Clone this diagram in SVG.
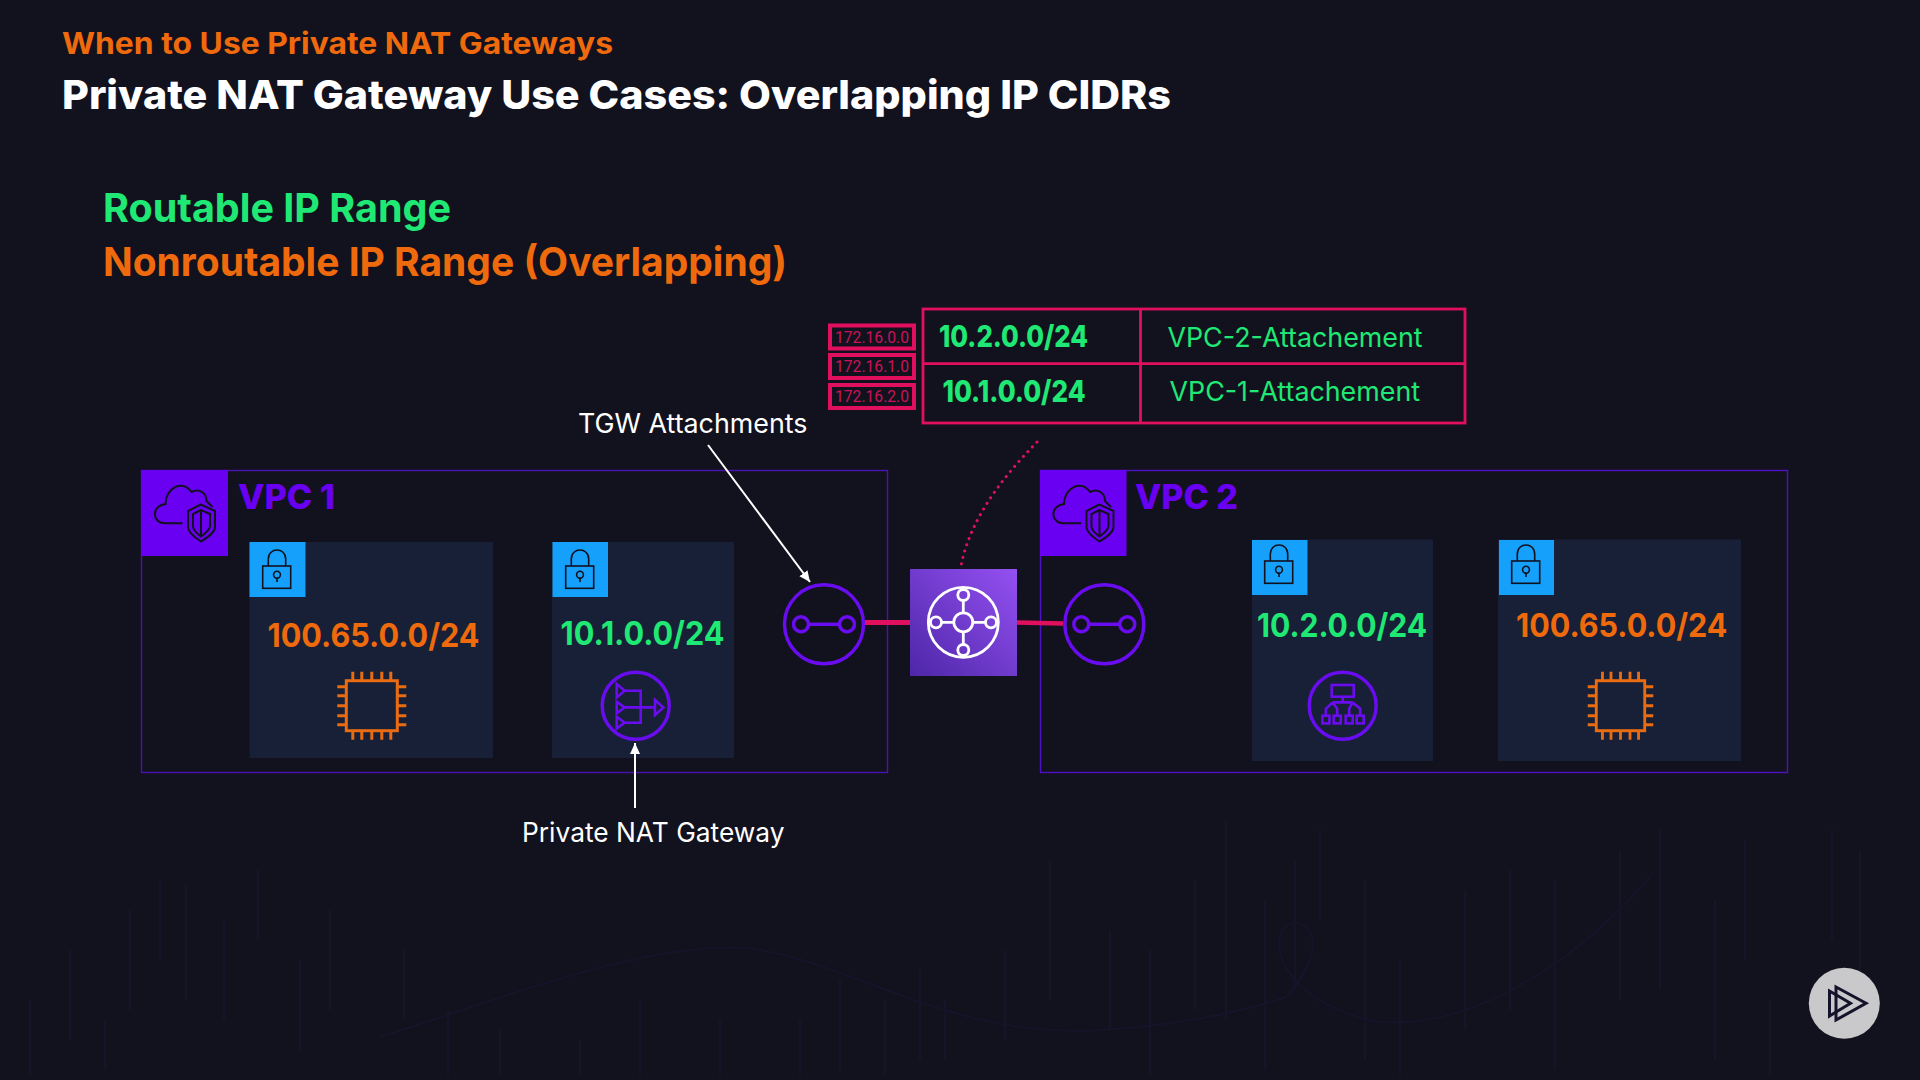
<svg xmlns="http://www.w3.org/2000/svg" xmlns:xlink="http://www.w3.org/1999/xlink" width="1920" height="1080" viewBox="0 0 1920 1080">
<style>
text{font-family:"Inter","Liberation Sans",sans-serif}
.b{font-weight:800}
.sb{font-weight:700}
.green{fill:#1fe974}
.orange{fill:#ef6a0d}
.white{fill:#fff}
.purple{fill:#6a00f2}
.vpc{fill:none;stroke:#4a12b0;stroke-width:1.4}
.subnet{fill:#172036}
.lockbox{fill:#14a0fb}
.ln{fill:none;stroke:#12111e;stroke-width:1.6}
.pu{fill:none;stroke:#6a0cf0;stroke-width:3.500}
.pu2{fill:none;stroke:#6a0cf0;stroke-width:2.600}
.or{fill:none;stroke:#ea6c12;stroke-width:3}
.pink{fill:none;stroke:#e0105f}
.lbl{font-size:27px;fill:#fff}
.ipt{font-family:"Roboto","Liberation Sans",sans-serif;font-size:16px;fill:#c9145a}
.cidr{font-size:33px;font-weight:700}
.tcidr{font-size:30px;font-weight:800}
.att{font-size:27px;fill:#1fe974}
</style>
<defs>
<linearGradient id="tgwg" x1="0" y1="1" x2="1" y2="0">
<stop offset="0" stop-color="#4d27a8"/><stop offset="1" stop-color="#9550f2"/>
</linearGradient>
<marker id="wa" markerUnits="userSpaceOnUse" markerWidth="14" markerHeight="14" refX="11" refY="5" orient="auto">
<path d="M0 0L11 5L0 10z" fill="#fff"/>
</marker>
<g id="cloudshield">
<rect width="86.500" height="86" fill="#6a00f2"/>
<g class="ln" style="stroke-width:2">
<path d="M41 53.300H23C11 53.300 9 36 24 34C24 18 41 9 50 22C58 18 65 23 65 31L71 37"/>
<path d="M59.500 34.500L46.500 41V57C46.500 63 54 68 59.500 71.500C65 68 73.500 63 73.500 57V41z"/>
<path d="M59.500 40L51.500 44V56C51.500 60 56 64 59.500 66.500C63 64 68.500 60 68.500 56V44z"/>
<path d="M59.500 40V66.500"/>
</g>
</g>
<g id="lock" class="ln">
<rect x="12.700" y="24" width="28" height="22.300"/>
<path d="M18.300 24V17C18.300 5 35.700 5 35.700 17V24"/>
<circle cx="27" cy="32.700" r="3.400"/>
<path d="M27 36V40"/>
</g>
<g id="chip" class="or">
<rect x="-25.500" y="-25" width="51" height="50"/>
<path d="M-19 -25V-34M-10 -25V-34M0 -25V-34M10 -25V-34M19 -25V-34M-19 25V34M-10 25V34M0 25V34M10 25V34M19 25V34M-25.500 -19H-34.500M-25.500 -10H-34.500M-25.500 0H-34.500M-25.500 10H-34.500M-25.500 19H-34.500M25.500 -19H34.500M25.500 -10H34.500M25.500 0H34.500M25.500 10H34.500M25.500 19H34.500"/>
</g>
<g id="attach">
<circle class="pu" r="39.500"/>
<circle class="pu" cx="-23" r="7.500"/>
<circle class="pu" cx="23" r="7.500"/>
<path class="pu" d="M-16 0H16"/>
</g>
</defs>

<rect id="background" width="1920" height="1080" fill="#12111e"/>
<g id="texture" fill="none" stroke="#191733" stroke-width="2" opacity="0.55">
<path d="M30 1000V1075M70 950V1040M105 1020V1070M130 910V1010M160 880V960M186 885V1000M224 920V1020M258 870V940M300 960V1050M330 910V1010M404 950V1020M448 1010V1075M500 1030V1075M580 1040V1075M640 1000V1075M720 1020V1075M800 1020V1075M840 980V1070M885 1000V1075M920 970V1060M945 1000V1060M1005 950V1040M1050 860V1000M1110 930V1030M1150 950V1075M1195 880V1010M1226 820V1020M1265 900V1070M1295 860V990M1320 830V920M1365 880V1060M1400 960V1075M1465 890V1030M1510 870V1010M1555 880V1070M1620 850V1000M1660 830V990M1715 900V1060M1745 840V960M1770 1000V1075M1832 830V940M1860 850V1010"/>
<path d="M380 1037C470 1010 640 940 747 948C850 960 950 1040 1102 1030C1180 1025 1250 1010 1286 997C1320 960 1320 925 1295 923C1265 925 1270 1000 1378 1022C1480 1030 1590 950 1653 873"/>
</g>

<g id="title">
<text class="sb orange" x="62" y="54" font-size="30" textLength="551" lengthAdjust="spacingAndGlyphs">When to Use Private NAT Gateways</text>
<text class="b white" x="62" y="109" font-size="40" textLength="1109" lengthAdjust="spacingAndGlyphs">Private NAT Gateway Use Cases: Overlapping IP CIDRs</text>
</g>
<g id="legend">
<text class="sb green" x="103" y="222" font-size="40" textLength="348" lengthAdjust="spacingAndGlyphs">Routable IP Range</text>
<text class="sb orange" x="103" y="276" font-size="40" textLength="684" lengthAdjust="spacingAndGlyphs">Nonroutable IP Range (Overlapping)</text>
</g>

<g id="vpc1">
<rect class="vpc" x="141.500" y="470.500" width="746" height="302"/>
<use href="#cloudshield" x="141.500" y="470"/>
<text class="b purple" x="238" y="509" font-size="34" textLength="97" lengthAdjust="spacingAndGlyphs">VPC 1</text>
</g>
<g id="subnet1">
<rect class="subnet" x="249.500" y="542" width="243.500" height="216"/>
<rect class="lockbox" x="249.500" y="542" width="56" height="55"/>
<use href="#lock" x="250" y="542"/>
<text class="cidr orange" x="267.500" y="647" textLength="212" lengthAdjust="spacingAndGlyphs">100.65.0.0/24</text>
<use href="#chip" x="371.800" y="705.700"/>
</g>
<g id="subnet2">
<rect class="subnet" x="552" y="542" width="182" height="216"/>
<rect class="lockbox" x="552.500" y="542" width="55.500" height="55"/>
<use href="#lock" x="553" y="542"/>
<text class="cidr green" x="560.500" y="644.500" textLength="164" lengthAdjust="spacingAndGlyphs">10.1.0.0/24</text>
</g>
<g id="nat-gateway" transform="translate(635.700 705.700)">
<circle class="pu" r="33.500"/>
<g class="pu2">
<path d="M-19 -21.700L-11 -15L-19 -8.300zM-19 -4L-11 1.700L-19 7.700zM-19 11L-11 17L-19 22.700zM19.300 -5.700L27.700 1.700L19.300 9.300z"/>
<path d="M-11 -15H5V17H-11M-11 1.700H19.300"/>
</g>
</g>
<g id="tgw-attachment-1"><use href="#attach" x="824" y="624.300"/></g>
<g id="tgw">
<rect x="910" y="569" width="107" height="107" fill="url(#tgwg)"/>
<g fill="none" stroke="#fff" stroke-width="2.800">
<circle cx="963.300" cy="622.300" r="35"/>
<circle cx="963.300" cy="622.300" r="9.500"/>
<circle cx="936" cy="622.300" r="5.500"/>
<circle cx="991" cy="622.300" r="5.500"/>
<circle cx="963.300" cy="595" r="5.500"/>
<circle cx="963.300" cy="650" r="5.500"/>
<path d="M941.500 622.300H953.800M972.800 622.300H985.500M963.300 600.500V612.800M963.300 631.800V644.500"/>
</g>
</g>

<g id="vpc2">
<rect class="vpc" x="1040.500" y="470.500" width="747" height="302" style="stroke:#4f10c4"/>
<use href="#cloudshield" x="1040" y="470"/>
<text class="b purple" x="1135" y="509" font-size="34" textLength="103" lengthAdjust="spacingAndGlyphs">VPC 2</text>
</g>
<g id="tgw-attachment-2"><use href="#attach" x="1104.300" y="624.300"/></g>
<g id="subnet3">
<rect class="subnet" x="1252" y="539.500" width="181" height="221.500"/>
<rect class="lockbox" x="1252" y="540" width="55.500" height="55"/>
<use href="#lock" x="1252" y="537"/>
<text class="cidr green" x="1257" y="636.500" textLength="170" lengthAdjust="spacingAndGlyphs">10.2.0.0/24</text>
</g>
<g id="load-balancer" transform="translate(1342.700 705.700)">
<circle class="pu" r="33.500"/>
<g class="pu2">
<rect x="-11" y="-20.700" width="22" height="11.700"/>
<path d="M0 -9V-3.300M-10 -3.300H10M-10 -3.300L-16.800 3V10M-10 -3.300L-5.500 3V10M10 -3.300L6.500 3V10M10 -3.300L17.500 3V10"/>
<rect x="-20.300" y="10" width="7" height="7.700"/>
<rect x="-9" y="10" width="7" height="7.700"/>
<rect x="3" y="10" width="7" height="7.700"/>
<rect x="14" y="10" width="7" height="7.700"/>
</g>
</g>
<g id="subnet4">
<rect class="subnet" x="1498" y="539.500" width="243" height="221.500"/>
<rect class="lockbox" x="1499" y="540" width="55" height="55"/>
<use href="#lock" x="1499" y="537"/>
<text class="cidr orange" x="1516" y="636.500" textLength="211.500" lengthAdjust="spacingAndGlyphs">100.65.0.0/24</text>
<use href="#chip" transform="translate(1620.500 705.700) scale(0.95 1)"/>
</g>

<g id="route-table">
<g class="pink" stroke-width="2.800">
<rect x="923" y="309" width="542" height="114"/>
<path d="M923 363.700H1465M1140.500 309V423"/>
</g>
<text class="tcidr green" x="939" y="347" textLength="149" lengthAdjust="spacingAndGlyphs">10.2.0.0/24</text>
<text class="att" x="1167.500" y="347" textLength="255" lengthAdjust="spacingAndGlyphs">VPC-2-Attachement</text>
<text class="tcidr green" x="942.500" y="401.500" textLength="143" lengthAdjust="spacingAndGlyphs">10.1.0.0/24</text>
<text class="att" x="1169.500" y="401" textLength="250.500" lengthAdjust="spacingAndGlyphs">VPC-1-Attachement</text>
</g>
<g id="ip-ranges">
<g class="pink" stroke-width="4">
<rect x="830" y="325.500" width="84" height="23"/>
<rect x="830" y="355" width="84" height="23"/>
<rect x="830" y="385" width="84" height="23"/>
</g>
<text class="ipt" x="835" y="343" textLength="74" lengthAdjust="spacingAndGlyphs">172.16.0.0</text>
<text class="ipt" x="835" y="372" textLength="74" lengthAdjust="spacingAndGlyphs">172.16.1.0</text>
<text class="ipt" x="835" y="402" textLength="74" lengthAdjust="spacingAndGlyphs">172.16.2.0</text>
</g>

<g id="connectors">
<path class="pink" stroke-width="5" d="M865 622.500H910"/>
<path class="pink" stroke-width="4.500" d="M1017 622.500L1063 623.500"/>
<path class="pink" stroke-width="3" stroke-linecap="round" stroke-dasharray="0.1 6.500" d="M1037 442C1000 480 970 520 961 566"/>
<path fill="none" stroke="#fff" stroke-width="2" marker-end="url(#wa)" d="M708 445L810 582"/>
<path fill="none" stroke="#fff" stroke-width="2" marker-end="url(#wa)" d="M635 808V743"/>
</g>

<g id="labels">
<text class="lbl" x="578" y="433" textLength="229.500" lengthAdjust="spacingAndGlyphs">TGW Attachments</text>
<text class="lbl" x="522" y="842" textLength="262.500" lengthAdjust="spacingAndGlyphs">Private NAT Gateway</text>
</g>

<g id="logo">
<circle cx="1844.300" cy="1003.300" r="35.500" fill="#c9c9cc"/>
<g fill="none" stroke="#14132a" stroke-width="3">
<path d="M1836 987L1866 1003.300L1836 1020z"/>
<path d="M1829.500 991L1850.500 1003.300L1829.500 1016z"/>
</g>
</g>
</svg>
